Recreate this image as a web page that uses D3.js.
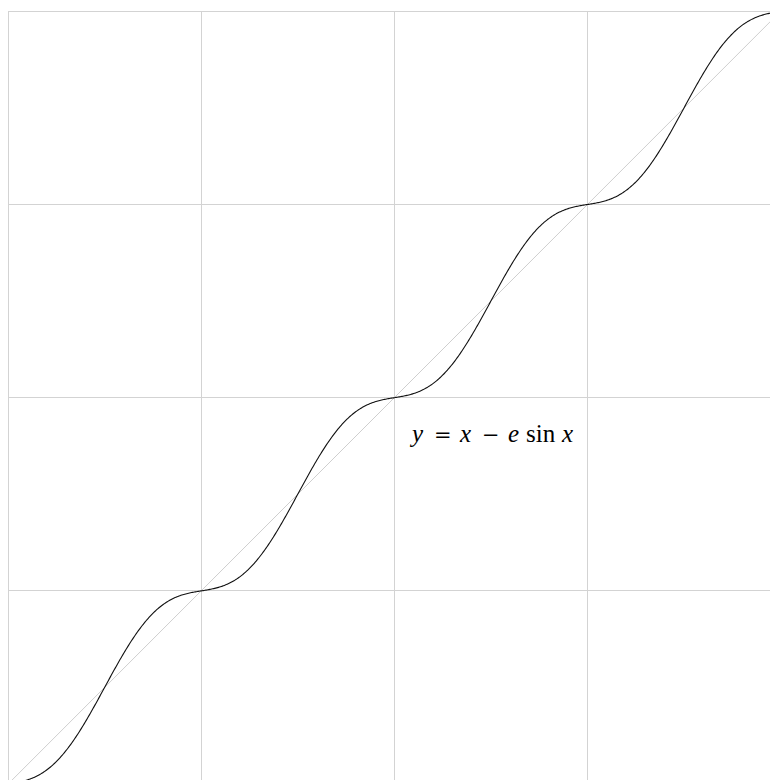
<!DOCTYPE html>
<html>
<head>
<meta charset="utf-8">
<script src="https://cdn.jsdelivr.net/npm/d3@7"></script>
<style>
  html, body { margin: 0; padding: 0; background: #fff; }
  svg { display: block; }
</style>
</head>
<body>
<svg id="chart" width="770" height="780"></svg>
<script>
// Kepler's equation: mean anomaly as a function of eccentric anomaly
const eccentricity = 0.84;
const domainX = [-4 * Math.PI, 4 * Math.PI];
const domainY = [-4 * Math.PI, 4 * Math.PI];
const gridTicks = [-4, -2, 0, 2, 4].map(k => k * Math.PI);
const sampleCount = 800;
const eqParts = [
  { t: "y", kind: "var" },
  { t: "=", kind: "op" },
  { t: "x", kind: "var" },
  { t: "−", kind: "op" },
  { t: "e", kind: "var" },
  { t: "sin", kind: "fn" },
  { t: "x", kind: "var" }
];

const svg = d3.select("#chart");

const x = d3.scaleLinear().domain(domainX).range([8, 780.6]);
const y = d3.scaleLinear().domain(domainY).range([784.1, 11.3]);

const grid = svg.append("g")
  .attr("stroke", "#d3d3d3")
  .attr("stroke-width", 1)
  .attr("shape-rendering", "crispEdges");

grid.selectAll("line.v").data(gridTicks).join("line")
  .attr("class", "v")
  .attr("x1", d => x(d)).attr("x2", d => x(d))
  .attr("y1", y(domainY[1])).attr("y2", y(domainY[0]));

grid.selectAll("line.h").data(gridTicks).join("line")
  .attr("class", "h")
  .attr("y1", d => y(d)).attr("y2", d => y(d))
  .attr("x1", x(domainX[0])).attr("x2", x(domainX[1]));

// reference diagonal y = x
svg.append("line")
  .attr("x1", x(domainX[0])).attr("y1", y(domainX[0]))
  .attr("x2", x(domainX[1])).attr("y2", y(domainX[1]))
  .attr("stroke", "#cfcfcf")
  .attr("stroke-width", 1);

const xs = d3.range(sampleCount + 1).map(i =>
  domainX[0] + (domainX[1] - domainX[0]) * i / sampleCount);
const pts = xs.map(v => [v, v - eccentricity * Math.sin(v)]);

svg.append("path")
  .datum(pts)
  .attr("fill", "none")
  .attr("stroke", "#111")
  .attr("stroke-width", 1.1)
  .attr("d", d3.line().x(d => x(d[0])).y(d => y(d[1])));

// equation label, typeset with math-style spacing between the pieces
const glyphLeft = [412, 434, 460, 482, 508, 526, 562];
const label = svg.append("g").attr("fill", "#000");

label.selectAll("text").data(eqParts).join("text")
  .attr("x", (d, i) => glyphLeft[i])
  .attr("y", 442)
  .attr("font-family", d => d.kind === "op"
    ? "'DejaVu Serif', serif"
    : "'Liberation Serif', 'DejaVu Serif', serif")
  .attr("font-size", d => d.kind === "op" ? 21 : 25)
  .attr("font-style", d => d.kind === "var" ? "italic" : "normal")
  .text(d => d.t);
</script>
</body>
</html>
